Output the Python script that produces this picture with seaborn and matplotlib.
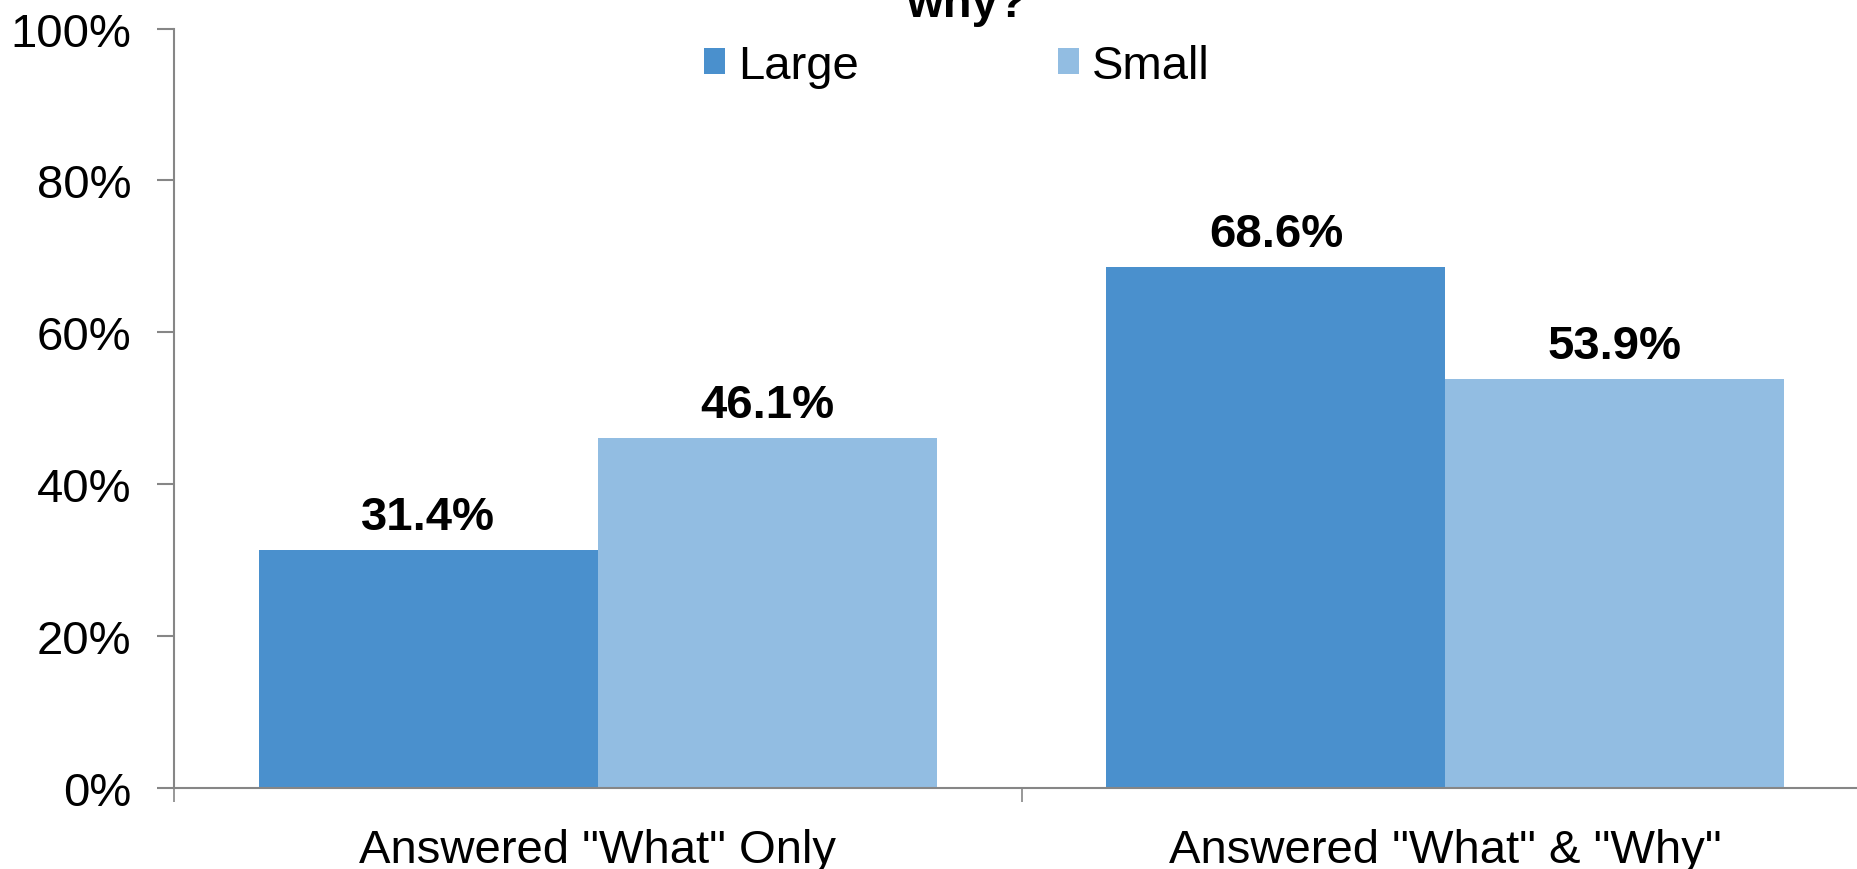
import matplotlib
matplotlib.use("Agg")
import matplotlib.pyplot as plt
import seaborn as sns
import pandas as pd
from matplotlib.ticker import FixedLocator

categories = ['Answered "What" Only', 'Answered "What" & "Why"']
large_values = [31.4, 68.6]
small_values = [46.1, 53.9]
series_names = ["Large", "Small"]
y_ticks = [0, 20, 40, 60, 80, 100]
title_text = "why?"

palette = {"Large": "#4A90CD", "Small": "#92BDE2"}

sns.set_theme(style="white")
plt.rcParams["font.family"] = ["Liberation Sans", "DejaVu Sans"]
plt.rcParams["text.color"] = "black"

df = pd.DataFrame({
    "category": categories * 2,
    "series": [series_names[0]] * len(categories) + [series_names[1]] * len(categories),
    "value": large_values + small_values,
})

fig = plt.figure(figsize=(18.58, 8.70), dpi=100)
ax = fig.add_axes([0.0937, 0.093, 1.006 - 0.0937, 0.966 - 0.093])

sns.barplot(data=df, x="category", y="value", hue="series", hue_order=series_names,
            order=categories, palette=palette, width=0.8, saturation=1,
            errorbar=None, ax=ax, linewidth=0)

ax.set_xlim(-0.5, 1.5)
ax.set_ylim(0, 100)
ax.set_yticks(y_ticks)
ax.set_yticklabels([f"{t}%" for t in y_ticks])
ax.set_xlabel("")
ax.set_ylabel("")

for s in ["top", "right"]:
    ax.spines[s].set_visible(False)
for s in ["left", "bottom"]:
    ax.spines[s].set_color("#868686")
    ax.spines[s].set_linewidth(1.5)

ax.tick_params(axis="y", which="major", direction="out", length=12, width=1.5,
               color="#868686", labelsize=34, pad=19, left=True, labelcolor="black")
ax.tick_params(axis="x", which="major", length=0, labelsize=34, pad=29, labelcolor="black")
ax.xaxis.set_minor_locator(FixedLocator([-0.5, 0.5, 1.5]))
ax.tick_params(axis="x", which="minor", direction="out", length=10, width=1.2,
               color="#868686", bottom=True)

# value labels above each bar
for container, vals in zip(ax.containers, [large_values, small_values]):
    for bar, v in zip(container, vals):
        ax.annotate(f"{v:.1f}%", (bar.get_x() + bar.get_width() / 2, v),
                    xytext=(0, 15), textcoords="offset points",
                    ha="center", va="baseline", fontsize=34, fontweight="bold",
                    color="black")

handles, labels = ax.get_legend_handles_labels()
ax.legend(handles, labels, loc="center", bbox_to_anchor=(0.515, 0.923),
          bbox_transform=fig.transFigure, ncol=2, frameon=False, fontsize=34,
          handlelength=0.45, handleheight=0.45, handletextpad=0.28,
          columnspacing=4.2, borderpad=0, labelcolor="black")

fig.text(0.52, 0.980, title_text, ha="center", va="baseline", fontsize=34,
         fontweight="bold", color="black")

fig.savefig("out.png", dpi=100)
